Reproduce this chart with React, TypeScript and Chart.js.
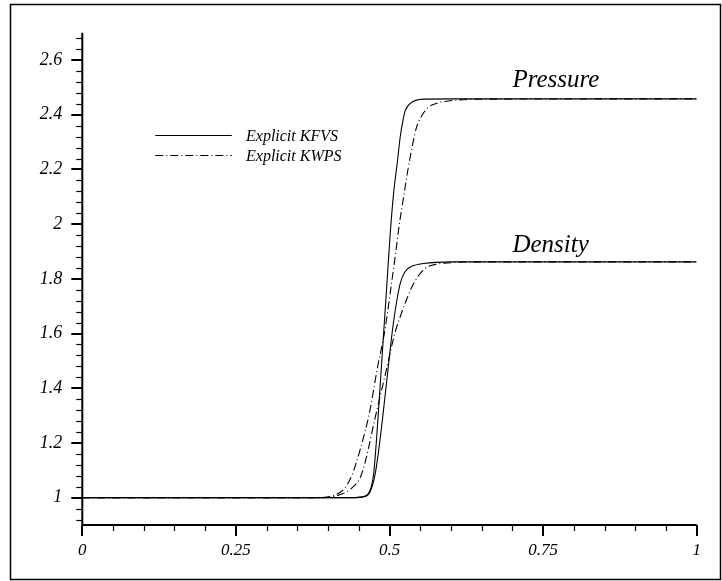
import React, { useEffect, useRef } from 'react';
import { Chart, registerables } from 'chart.js';

Chart.register(...registerables);

// Axis ticks
const X_TICKS = [0, 0.25, 0.5, 0.75, 1];
const Y_TICKS = [1, 1.2, 1.4, 1.6, 1.8, 2, 2.2, 2.4, 2.6];
const X_MIN = 0;
const X_MAX = 1;
const Y_MIN = 0.9;
const Y_MAX = 2.7;
const X_MINOR_STEP = 0.05;
const Y_MINOR_STEP = 0.04;

// Series names
const SERIES_NAMES = ['Explicit KFVS', 'Explicit KWPS'];

// Pressure, Explicit KFVS
const P_KFVS_X = [0, 0.3, 0.444, 0.4555, 0.465, 0.474, 0.4794, 0.4849, 0.4903, 0.4957, 0.5011, 0.5065, 0.513, 0.5173, 0.5217, 0.5255, 0.5336, 0.555, 0.6, 1];
const P_KFVS_Y = [1, 1, 1, 1.003, 1.013, 1.083, 1.229, 1.413, 1.596, 1.779, 1.963, 2.109, 2.231, 2.317, 2.377, 2.414, 2.441, 2.457, 2.458, 2.458];

// Density, Explicit KFVS
const D_KFVS_X = [0, 0.3, 0.445, 0.4585, 0.4683, 0.4764, 0.4845, 0.4927, 0.5008, 0.506, 0.5127, 0.517, 0.5215, 0.528, 0.536, 0.555, 0.6, 1];
const D_KFVS_Y = [1, 1, 1, 1.003, 1.021, 1.083, 1.21, 1.37, 1.535, 1.633, 1.731, 1.779, 1.81, 1.834, 1.846, 1.856, 1.862, 1.862];

// Pressure, Explicit KWPS
const P_KWPS_X = [0, 0.3, 0.387, 0.403, 0.416, 0.4275, 0.439, 0.452, 0.4683, 0.4797, 0.4927, 0.5008, 0.509, 0.516, 0.5236, 0.5306, 0.5377, 0.544, 0.5524, 0.563, 0.577, 0.598, 0.658, 1];
const P_KWPS_Y = [1, 1, 1, 1.003, 1.014, 1.036, 1.083, 1.174, 1.32, 1.467, 1.615, 1.743, 1.877, 1.999, 2.109, 2.207, 2.292, 2.354, 2.396, 2.427, 2.442, 2.451, 2.457, 2.458];

// Density, Explicit KWPS
const D_KWPS_X = [0, 0.3, 0.387, 0.403, 0.4226, 0.439, 0.452, 0.4601, 0.4764, 0.4927, 0.5089, 0.518, 0.527, 0.536, 0.546, 0.558, 0.575, 0.6, 0.63, 1];
const D_KWPS_Y = [1, 1, 1, 1.003, 1.013, 1.036, 1.072, 1.127, 1.29, 1.446, 1.603, 1.665, 1.72, 1.768, 1.808, 1.838, 1.853, 1.859, 1.862, 1.862];

// Curve annotations
const CURVE_LABELS = ['Pressure', 'Density'];
const CURVE_LABEL_X = [0.7, 0.7];
const CURVE_LABEL_Y = [2.5, 1.9];

const FONT_FAMILY = '"Liberation Serif", "Times New Roman", serif';
const DASH_DOT = [8, 3, 1, 3];

const zip = (xs: number[], ys: number[]) => xs.map((x, i) => ({ x, y: ys[i] }));

const fmt = (v: number) => String(Number(v.toFixed(2)));

const decorPlugin = {
  id: 'decor',
  beforeDraw(chart: any) {
    const ctx = chart.ctx;
    ctx.save();
    ctx.fillStyle = '#ffffff';
    ctx.fillRect(0, 0, chart.width, chart.height);
    ctx.strokeStyle = '#000';
    ctx.lineWidth = 1.5;
    ctx.strokeRect(10.5, 4.5, 710, 575);
    ctx.restore();
  },
  afterDraw(chart: any) {
    const ctx = chart.ctx;
    const xs = chart.scales.x;
    const ys = chart.scales.y;
    const area = chart.chartArea;
    ctx.save();
    ctx.strokeStyle = '#000';
    // axis lines
    ctx.lineWidth = 2;
    ctx.beginPath();
    ctx.moveTo(area.left, area.top);
    ctx.lineTo(area.left, area.bottom);
    ctx.lineTo(area.right, area.bottom);
    ctx.stroke();
    // y minor ticks
    ctx.lineWidth = 1.2;
    const nY = Math.round((Y_MAX - Y_MIN) / Y_MINOR_STEP);
    for (let i = 0; i <= nY + 1; i++) {
      const v = Math.round((0.92 + i * Y_MINOR_STEP) * 1000) / 1000;
      if (v > Y_MAX + 1e-9) break;
      if (Y_TICKS.some((t) => Math.abs(t - v) < 1e-6)) continue;
      const py = Math.round(ys.getPixelForValue(v)) + 0.5;
      ctx.beginPath();
      ctx.moveTo(area.left - 6, py);
      ctx.lineTo(area.left, py);
      ctx.stroke();
    }
    // y major ticks
    ctx.lineWidth = 2;
    Y_TICKS.forEach((v) => {
      const py = Math.round(ys.getPixelForValue(v));
      ctx.beginPath();
      ctx.moveTo(area.left - 11, py);
      ctx.lineTo(area.left, py);
      ctx.stroke();
    });
    // x minor ticks
    ctx.lineWidth = 1.2;
    const nX = Math.round((X_MAX - X_MIN) / X_MINOR_STEP);
    for (let i = 0; i <= nX; i++) {
      const v = Math.round((X_MIN + i * X_MINOR_STEP) * 1000) / 1000;
      if (X_TICKS.some((t) => Math.abs(t - v) < 1e-6)) continue;
      const px = Math.round(xs.getPixelForValue(v)) + 0.5;
      ctx.beginPath();
      ctx.moveTo(px, area.bottom);
      ctx.lineTo(px, area.bottom + 6);
      ctx.stroke();
    }
    // x major ticks
    ctx.lineWidth = 2;
    X_TICKS.forEach((v) => {
      const px = Math.round(xs.getPixelForValue(v));
      ctx.beginPath();
      ctx.moveTo(px, area.bottom);
      ctx.lineTo(px, area.bottom + 11);
      ctx.stroke();
    });

    // curve labels
    ctx.fillStyle = '#000';
    ctx.font = `italic 25px ${FONT_FAMILY}`;
    ctx.textAlign = 'left';
    ctx.textBaseline = 'alphabetic';
    CURVE_LABELS.forEach((t, i) => {
      ctx.fillText(t, xs.getPixelForValue(CURVE_LABEL_X[i]), ys.getPixelForValue(CURVE_LABEL_Y[i]));
    });

    // legend
    const lx0 = area.left + 73;
    const lx1 = area.left + 149.5;
    const ly = [area.top + 102.6, area.top + 122.3];
    ctx.font = `italic 16px ${FONT_FAMILY}`;
    SERIES_NAMES.forEach((name, i) => {
      ctx.lineWidth = 1;
      ctx.setLineDash(i === 0 ? [] : DASH_DOT);
      ctx.beginPath();
      ctx.moveTo(lx0, Math.round(ly[i]) + 0.5);
      ctx.lineTo(lx1, Math.round(ly[i]) + 0.5);
      ctx.stroke();
      ctx.setLineDash([]);
      ctx.fillText(name, area.left + 163.7, ly[i] + 6);
    });
    ctx.restore();
  },
};

export default function App() {
  const ref = useRef<HTMLCanvasElement | null>(null);

  useEffect(() => {
    document.body.style.margin = '0';
    const canvas = ref.current;
    if (!canvas) return;
    const lineBase = {
      borderColor: '#000',
      borderWidth: 1.1,
      pointRadius: 0,
      fill: false,
      cubicInterpolationMode: 'monotone' as const,
    };
    const chart = new Chart(canvas, {
      type: 'line',
      data: {
        datasets: [
          { ...lineBase, label: SERIES_NAMES[0] + ' pressure', data: zip(P_KFVS_X, P_KFVS_Y) },
          { ...lineBase, label: SERIES_NAMES[0] + ' density', data: zip(D_KFVS_X, D_KFVS_Y) },
          { ...lineBase, label: SERIES_NAMES[1] + ' pressure', data: zip(P_KWPS_X, P_KWPS_Y), borderDash: DASH_DOT },
          { ...lineBase, label: SERIES_NAMES[1] + ' density', data: zip(D_KWPS_X, D_KWPS_Y), borderDash: DASH_DOT },
        ],
      },
      options: {
        responsive: false,
        animation: false,
        layout: { padding: { left: 0, right: 25.3, top: 32.7, bottom: 0 } },
        plugins: { legend: { display: false }, tooltip: { enabled: false } },
        scales: {
          x: {
            type: 'linear',
            min: X_MIN,
            max: X_MAX,
            afterBuildTicks: (s: any) => {
              s.ticks = X_TICKS.map((v) => ({ value: v }));
            },
            afterFit: (s: any) => {
              s.height = 56;
            },
            grid: { display: true, drawOnChartArea: false, drawTicks: true, tickLength: 11, tickColor: 'rgba(0,0,0,0)' },
            border: { display: false },
            ticks: {
              autoSkip: false,
              maxRotation: 0,
              padding: 4,
              color: '#000',
              font: { family: FONT_FAMILY, size: 17, style: 'italic' },
              callback: (v: any) => fmt(Number(v)),
            },
          },
          y: {
            type: 'linear',
            min: Y_MIN,
            max: Y_MAX,
            afterBuildTicks: (s: any) => {
              s.ticks = Y_TICKS.map((v) => ({ value: v }));
            },
            afterFit: (s: any) => {
              s.width = 82.3;
            },
            grid: { display: true, drawOnChartArea: false, drawTicks: true, tickLength: 11, tickColor: 'rgba(0,0,0,0)' },
            border: { display: false },
            ticks: {
              autoSkip: false,
              padding: 9,
              color: '#000',
              font: { family: FONT_FAMILY, size: 18, style: 'italic' },
              callback: (v: any) => fmt(Number(v)),
            },
          },
        },
      },
      plugins: [decorPlugin],
    });
    return () => chart.destroy();
  }, []);

  return (
    <div style={{ position: 'absolute', left: 0, top: 0, width: 722, height: 581 }}>
      <canvas ref={ref} width={722} height={581} style={{ display: 'block' }} />
    </div>
  );
}
